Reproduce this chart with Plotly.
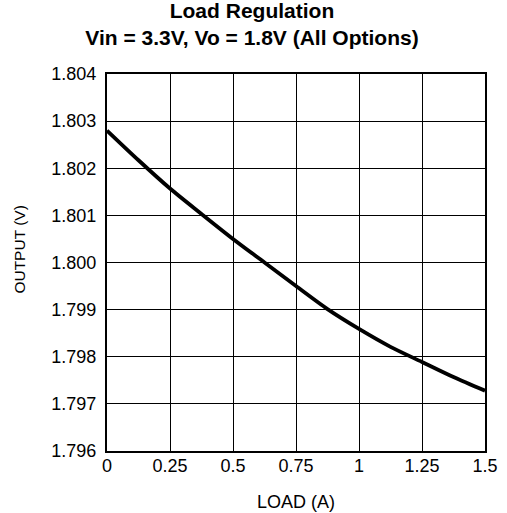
import plotly.graph_objects as go

load_a = [0, 0.125, 0.25, 0.375, 0.5, 0.625, 0.75, 0.875, 1.0, 1.125, 1.25, 1.375, 1.5]
output_v = [1.80280, 1.80217, 1.80157, 1.80103, 1.80050, 1.80000, 1.79950, 1.79901,
            1.79859, 1.79821, 1.79789, 1.79757, 1.79728]
x_ticks = [0, 0.25, 0.5, 0.75, 1, 1.25, 1.5]
x_tick_labels = ["0", "0.25", "0.5", "0.75", "1", "1.25", "1.5"]
y_ticks = [1.796, 1.797, 1.798, 1.799, 1.800, 1.801, 1.802, 1.803, 1.804]
y_tick_labels = ["1.796", "1.797", "1.798", "1.799", "1.800", "1.801", "1.802", "1.803", "1.804"]
title_lines = ["Load Regulation", "Vin = 3.3V, Vo = 1.8V (All Options)"]
x_title = "LOAD (A)"
y_title = "OUTPUT (V)"

font = "Liberation Sans, Arial, Helvetica, sans-serif"

fig = go.Figure()
fig.add_trace(go.Scatter(x=load_a, y=output_v, mode="lines",
                         line=dict(color="black", width=3.8, shape="spline", smoothing=0.8),
                         showlegend=False))

fig.update_layout(
    width=507, height=513,
    margin=dict(l=107, r=22, t=74, b=62),
    paper_bgcolor="white", plot_bgcolor="white",
    font=dict(family=font, size=18, color="black"),
    title=dict(text="<b>" + "<br>".join(title_lines) + "</b>",
               xref="container", yref="container", x=0.497, xanchor="center",
               y=0.965, yanchor="middle", automargin=False,
               font=dict(family=font, size=21, color="black")),
)
# y-axis title
fig.add_annotation(text=y_title, xref="paper", yref="paper", x=-0.232, y=0.535,
                   xanchor="center", yanchor="middle", textangle=-90, showarrow=False,
                   font=dict(family=font, size=15.5, color="black"))

fig.update_xaxes(range=[0, 1.5], tickvals=x_ticks, ticktext=x_tick_labels,
                 showgrid=True, gridcolor="black", gridwidth=1.1,
                 showline=True, linecolor="black", linewidth=2.2, mirror=True,
                 ticks="", zeroline=False, ticklabelstandoff=-3, automargin=False,
                 title=dict(text=x_title, standoff=21, font=dict(size=18)),
                 tickfont=dict(size=18))
fig.update_yaxes(range=[1.796, 1.804], tickvals=y_ticks, ticktext=y_tick_labels,
                 showgrid=True, gridcolor="black", gridwidth=1.1,
                 showline=True, linecolor="black", linewidth=2.2, mirror=True,
                 ticks="", zeroline=False, ticklabelstandoff=5, automargin=False,
                 tickfont=dict(size=18))

fig.write_html("out.html", config={"displayModeBar": False},
               post_script="document.body.style.margin='0';document.body.style.overflow='hidden';")
